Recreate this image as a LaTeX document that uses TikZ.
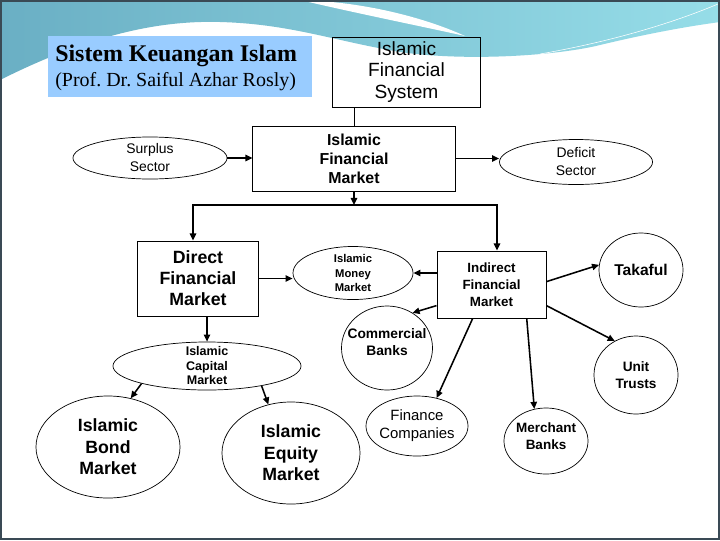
\documentclass[tikz,border=0pt]{standalone}
\usepackage{fontspec}
\setmainfont{Liberation Sans}
\newfontfamily\titlefont{Liberation Serif}
\usetikzlibrary{shapes.geometric, arrows.meta, positioning, calc}
\definecolor{BannerTeal}{HTML}{6AAFC4}
\definecolor{BannerCyan}{HTML}{96DDE8}
\definecolor{TitleBlue}{HTML}{99CCFF}
\definecolor{FrameGray}{HTML}{3A4A55}

\tikzset{
    sysbox/.style={draw, rectangle, line width=0.7pt, align=center, inner sep=0pt},
    oval/.style={draw, ellipse, line width=0.5pt, align=center, inner sep=-6pt},
    flow/.style={line width=1.1pt, -{Triangle[length=5pt,width=4.5pt]}},
}

\begin{document}
\begin{tikzpicture}[x=0.025cm, y=-0.025cm]
    \useasboundingbox (0,0) rectangle (720,540);

    % Slide background and banner
    \fill[white] (0,0) rectangle (720,540);
    \shade[left color=BannerTeal, right color=BannerCyan] (0,0) -- (720,0) -- (720,22)
        .. controls (690,26) and (650,33) .. (600,45)
        .. controls (560,55) and (470,62) .. (400,52)
        .. controls (330,40) and (290,24) .. (220,22)
        .. controls (150,20) and (80,40) .. (0,80) -- cycle;
    \fill[white] (300,0) .. controls (370,2) and (430,20) .. (465,36)
        .. controls (420,26) and (360,14) .. (300,0) -- cycle;
    \draw[white, line width=0.4pt] (540,54) .. controls (620,40) and (680,20) .. (718,4);
    \draw[FrameGray, line width=1.5pt] (1,1) rectangle (719,539);

    % Title
    \node[fill=TitleBlue, minimum width=6.6cm, minimum height=1.525cm] (titlebox) at (180,66.5) {};
    \node[anchor=west, inner sep=0pt, font=\titlefont\bfseries\fontsize{17}{20}\selectfont] (titlehead) at (55,56) {Sistem Keuangan Islam};
    \node[anchor=west, inner sep=0pt, font=\titlefont\fontsize{14.2}{17}\selectfont] (titlesub) at (55,82) {(Prof.\ Dr.\ Saiful Azhar Rosly)};

    % Upper level
    \node[sysbox, minimum width=3.675cm, minimum height=1.75cm, font=\fontsize{13.6}{15.6}\selectfont] (ifs) at (406.5,72) {Islamic\\Financial\\System};
    \node[sysbox, minimum width=5.05cm, minimum height=1.625cm, font=\bfseries\fontsize{11.3}{13.5}\selectfont] (ifm) at (354,158.5) {Islamic\\Financial\\Market};
    \node[oval, minimum width=3.85cm, minimum height=1.05cm, font=\fontsize{9.9}{12.8}\selectfont] (surplus) at (150,158) {Surplus\\Sector};
    \node[oval, minimum width=3.825cm, minimum height=1.125cm, font=\fontsize{9.9}{12.8}\selectfont] (deficit) at (576,162) {Deficit\\Sector};

    % Direct and indirect markets
    \node[sysbox, minimum width=3cm, minimum height=1.875cm, font=\bfseries\fontsize{12.6}{14.9}\selectfont] (direct) at (198,278.5) {Direct\\Financial\\Market};
    \node[sysbox, minimum width=2.725cm, minimum height=1.675cm, font=\bfseries\fontsize{9.5}{12}\selectfont] (indirect) at (491.5,284.5) {Indirect\\Financial\\Market};
    \node[oval, minimum width=3cm, minimum height=1.325cm, font=\bfseries\fontsize{8}{10.3}\selectfont] (money) at (353,273) {Islamic\\Money\\Market};
    \node[oval, minimum width=4.7cm, minimum height=1.2cm, font=\bfseries\fontsize{8.9}{10.3}\selectfont] (capital) at (207,366) {Islamic\\Capital\\Market};
    \node[oval, minimum width=3.6cm, minimum height=2.55cm, font=\bfseries\fontsize{12.6}{15.2}\selectfont] (bond) at (108,447) {Islamic\\Bond\\Market};
    \node[oval, minimum width=3.45cm, minimum height=2.55cm, font=\bfseries\fontsize{12.6}{15.2}\selectfont] (equity) at (291,453) {Islamic\\Equity\\Market};

    % Institutions
    \node[oval, minimum width=2.1cm, minimum height=1.85cm, font=\bfseries\fontsize{11.1}{13}\selectfont] (takaful) at (641,270) {Takaful};
    \node[oval, minimum width=2.1cm, minimum height=1.95cm, font=\bfseries\fontsize{9.7}{12}\selectfont] (unit) at (636,375) {Unit\\Trusts};
    \node[oval, minimum width=2.55cm, minimum height=1.5cm, font=\fontsize{10.6}{12.8}\selectfont] (finance) at (417,426) {Finance\\Companies};
    \node[oval, minimum width=2.275cm, minimum height=2.1cm] (commercial) at (387,348) {};
    \node[align=center, font=\bfseries\fontsize{9.8}{12}\selectfont] (commercialtxt) at (387,342) {Commercial\\Banks};
    \node[oval, minimum width=2.1cm, minimum height=1.65cm] (merchant) at (546,441) {};
    \node[align=center, font=\bfseries\fontsize{9.6}{12}\selectfont] (merchanttxt) at (546,436) {Merchant\\Banks};

    % Connectors
    \draw[line width=0.7pt] (ifs.south -| ifm.north) -- (ifm.north);
    \draw[flow] (surplus.east) -- (surplus.east -| ifm.west);
    \draw[flow] (ifm.east) -- (ifm.east -| deficit.west);
    \coordinate (busL) at (193,205);
    \coordinate (busR) at (497,205);
    \draw[flow] (ifm.south) -- (ifm.south |- busL);
    \draw[flow, {Triangle[length=5pt,width=4.5pt]}-{Triangle[length=5pt,width=4.5pt]}] (busL |- direct.north) |- (busR) -- (busR |- indirect.north);
    \draw[flow] (direct.east) -- (direct.east -| money.west);
    \draw[flow] (money.east -| indirect.west) -- (money.east);
    \draw[flow] (capital.north |- direct.south) -- (capital.north);
    \draw[flow] (capital.195) -- (bond.65);
    \draw[flow] (capital.-20) -- (equity.115);
    \draw[flow] (indirect.201) -- (commercial.54);
    \draw[flow] (indirect.241) -- (finance.55);
    \draw[flow] (indirect.-44) -- (merchant.110);
    \draw[flow] (indirect.-21) -- (unit.122);
    \draw[flow] (indirect.3) -- (takaful.173);
\end{tikzpicture}
\end{document}
